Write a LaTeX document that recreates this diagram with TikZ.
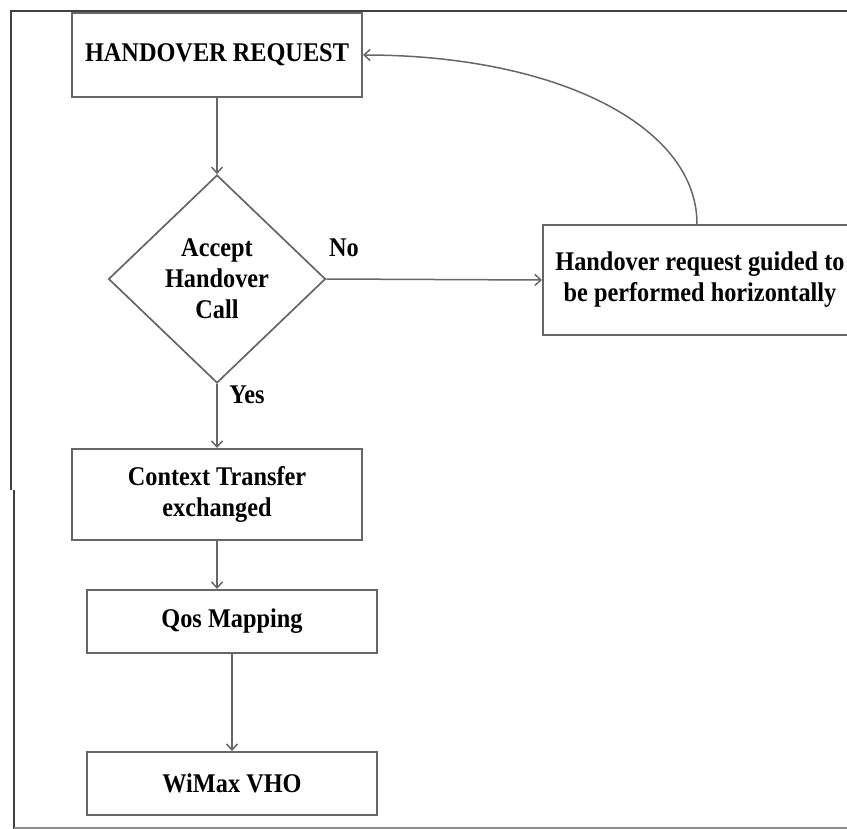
\documentclass[tikz,border=0pt]{standalone}
\usepackage{fontspec}
\setmainfont[FakeStretch=0.9]{Liberation Serif}
\usetikzlibrary{shapes.geometric,arrows.meta}
\tikzset{
	stepbox/.style={draw=black!60, line width=2pt, align=center, inner sep=0pt, font=\bfseries\fontsize{27}{31}\selectfont},
	decbox/.style={stepbox, shape=diamond, line width=1.7pt},
	flow/.style={draw=black!60, line width=1.5pt, -{Straight Barb[length=6pt,width=11pt]}},
	lbl/.style={inner sep=0pt, font=\bfseries\fontsize{27}{31}\selectfont},
}

\begin{document}
\begin{tikzpicture}[x=1pt, y=-1pt]
			%%%%% START %%%%%
			\useasboundingbox (0, 0) rectangle (847, 829);
			\clip (0, 0) rectangle (847, 829);
			
			\draw[line width=2.5pt, color=black!75] (10, 11) -- (847, 11);
			\draw[line width=2.5pt, color=black!75] (11, 11) -- (11, 490);
			\draw[line width=2.5pt, color=black!75] (14, 490) -- (14, 829);
			\draw[line width=1.5pt, color=black!45] (14, 828) -- (847, 828);
			
			\node[stepbox, minimum width=290, minimum height=84] (hreq) at (217, 55) {HANDOVER REQUEST};
			\node[decbox, minimum width=217, minimum height=208] (dec) at (217, 279) {Accept\\Handover\\Call};
			\node[stepbox, minimum width=314, minimum height=110] (guide) at (700, 280) {Handover request guided to\\be performed horizontally};
			\node[stepbox, minimum width=290, minimum height=91] (ctx) at (217, 494.5) {Context Transfer\\exchanged};
			\node[stepbox, minimum width=290, minimum height=63] (qos) at (232, 621.5) {Qos Mapping};
			\node[stepbox, minimum width=290, minimum height=63] (wimax) at (232, 783.5) {WiMax VHO};
			
			\node[lbl] (no) at (344, 248) {No};
			\node[lbl] (yes) at (247, 395) {Yes};
			
			\draw[flow] (hreq.south) -- (dec.north);
			\draw[flow] (dec.east) -- (guide.west);
			\draw[flow] (dec.south) -- (ctx.north);
			\draw[flow] (ctx.south) -- (ctx.south |- qos.north);
			\draw[flow] (qos.south) -- (wimax.north);
			\draw[flow] ([xshift=-3]guide.north) .. controls (697, 125) and (555, 55) .. (hreq.east);
			
			%%%%% END %%%%%
\end{tikzpicture}
\end{document}
